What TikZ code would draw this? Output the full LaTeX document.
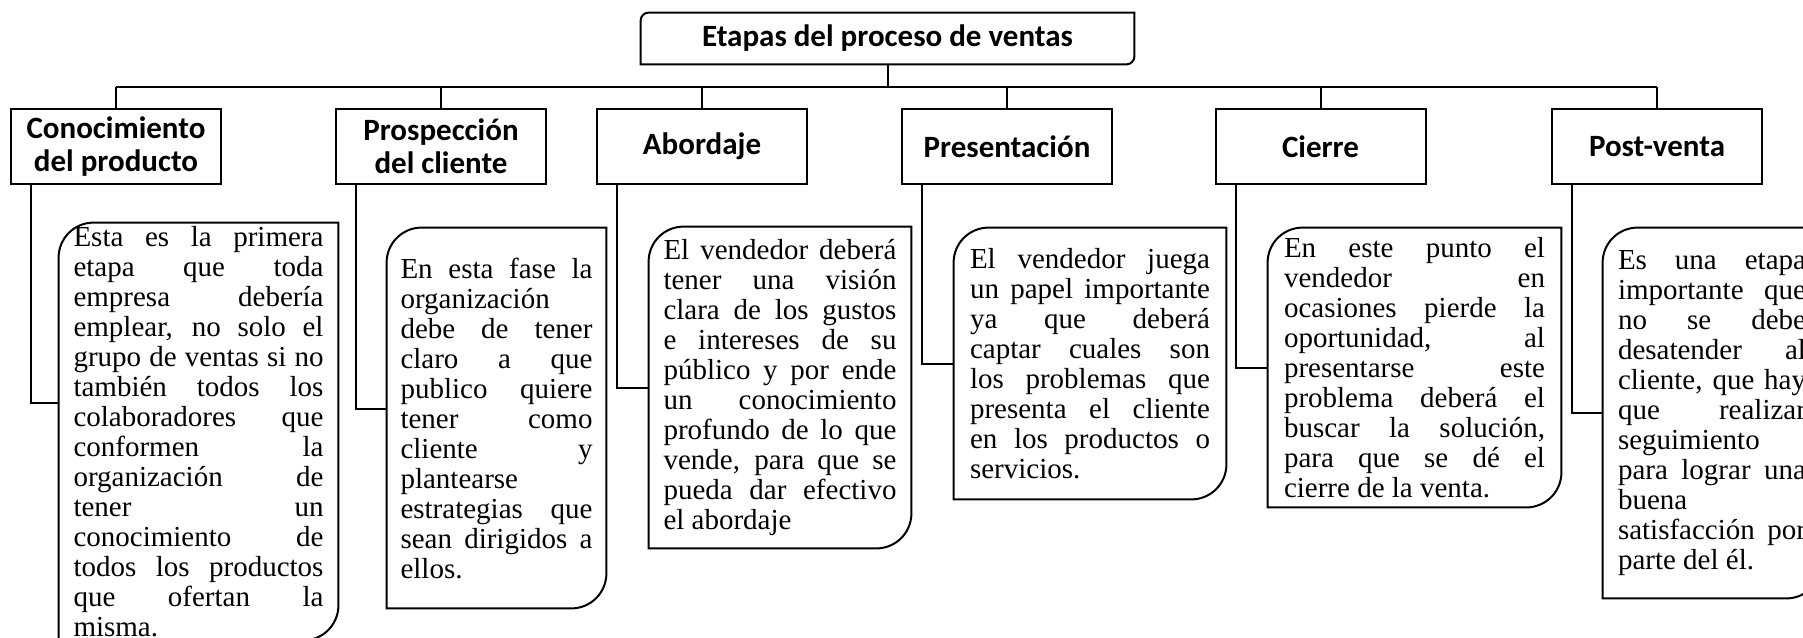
\documentclass[tikz,border=0pt]{standalone}
\usepackage{fontspec}
\setmainfont{Liberation Serif}
\newfontfamily\headfont{Carlito}
\setlength{\parindent}{0pt}

% justified line, Word style
\newcommand{\jl}[1]{\makebox[\hsize][s]{#1}\\}
% box with rounded top left and bottom right corners
\newcommand{\cornerbox}[2]{%
  \draw[line width=1pt] ([yshift=-#2]#1.north west)
    arc[start angle=180, end angle=90, radius=#2] -- (#1.north east)
    -- ([yshift=#2]#1.south east)
    arc[start angle=0, end angle=-90, radius=#2] -- (#1.south west) -- cycle;}

\begin{document}
\begin{tikzpicture}[x=0.5pt, y=-0.5pt,
    headbox/.style={font=\headfont\bfseries\fontsize{15.5}{16.5}\selectfont,
                    minimum width=246.5pt, minimum height=25.5pt, inner sep=0pt},
    stagebox/.style={draw, line width=1pt, align=center, inner sep=0pt,
                     minimum width=105pt, minimum height=37.5pt,
                     font=\headfont\bfseries\fontsize{15.5}{16.5}\selectfont},
    descbox/.style={align=justify, inner sep=0pt,
                    font=\fontsize{14.5}{15}\selectfont}]

    \useasboundingbox (0,0) rectangle (1803,637);

    % Title
    \node[headbox] (tit) at (887.5,38.5) {Etapas del proceso de ventas};
    \cornerbox{tit}{4pt}

    % Stages
    \node[stagebox] (s1) at (116,146.5) {Conocimiento\\del producto};
    \node[stagebox] (s2) at (441,146.5) {Prospección\\del cliente};
    \node[stagebox] (s3) at (702,146.5) {Abordaje};
    \node[stagebox] (s4) at (1007,146.5) {Presentación};
    \node[stagebox] (s5) at (1320.5,146.5) {Cierre};
    \node[stagebox] (s6) at (1657,146.5) {Post-venta};

    % Tree lines
    \coordinate (bar) at (0,86.5);
    \draw[line width=1pt] (tit.south) -- (tit.south |- bar);
    \draw[line width=1pt] (s1.north |- bar) -- (s6.north |- bar);
    \draw[line width=1pt] (s1.north) -- (s1.north |- bar);
    \draw[line width=1pt] (s2.north) -- (s2.north |- bar);
    \draw[line width=1pt] (s3.north) -- (s3.north |- bar);
    \draw[line width=1pt] (s4.north) -- (s4.north |- bar);
    \draw[line width=1pt] (s5.north) -- (s5.north |- bar);
    \draw[line width=1pt] (s6.north) -- (s6.north |- bar);

    % Descriptions
    \node[descbox, minimum width=139.5pt, minimum height=208.5pt, text width=125pt]
        (d1) at (198.5,431.5) {\jl{Esta es la primera}\jl{etapa que toda}%
        \jl{empresa debería}\jl{emplear, no solo el}\jl{grupo de ventas si no}%
        \jl{también todos los}\jl{colaboradores que}\jl{conformen la}%
        \jl{organización de}\jl{tener un}\jl{conocimiento de}%
        \jl{todos los productos}\jl{que ofertan la}misma.};
    \node[descbox, minimum width=109.5pt, minimum height=190pt, text width=96pt]
        (d2) at (496.5,418) {\jl{En esta fase la}organización\\%
        \jl{debe de tener}\jl{claro a que}\jl{publico quiere}\jl{tener como}%
        \jl{cliente y}plantearse\\\jl{estrategias que}\jl{sean dirigidos a}ellos.};
    \node[descbox, minimum width=131pt, minimum height=160.5pt, text width=116.5pt]
        (d3) at (780,387.5) {\jl{El vendedor deberá}\jl{tener una visión}%
        \jl{clara de los gustos}\jl{e intereses de su}\jl{público y por ende}%
        \jl{un conocimiento}\jl{profundo de lo que}\jl{vende, para que se}%
        \jl{pueda dar efectivo}el abordaje};
    \node[descbox, minimum width=136pt, minimum height=135.5pt, text width=120pt]
        (d4) at (1090,363.5) {\jl{El vendedor juega}\jl{un papel importante}%
        \jl{ya que deberá}\jl{captar cuales son}\jl{los problemas que}%
        \jl{presenta el cliente}\jl{en los productos o}servicios.};
    \node[descbox, minimum width=146.5pt, minimum height=139.5pt, text width=130.5pt]
        (d5) at (1414.5,367.5) {\jl{En este punto el}\jl{vendedor en}%
        \jl{ocasiones pierde la}\jl{oportunidad, al}\jl{presentarse este}%
        \jl{problema deberá el}\jl{buscar la solución,}\jl{para que se dé el}%
        cierre de la venta.};
    \node[descbox, minimum width=109pt, minimum height=185pt, text width=94pt]
        (d6) at (1712,413) {\jl{Es una etapa}\jl{importante que}\jl{no se debe}%
        \jl{desatender al}\jl{cliente, que hay}\jl{que realizar}seguimiento\\%
        \jl{para lograr una}buena\\\jl{satisfacción por}parte del él.};
    \cornerbox{d1}{17.5pt}
    \cornerbox{d2}{17.5pt}
    \cornerbox{d3}{17.5pt}
    \cornerbox{d4}{17.5pt}
    \cornerbox{d5}{17.5pt}
    \cornerbox{d6}{17.5pt}

    % Connectors
    \draw[line width=1pt] ([xshift=10.5pt]s1.south west) |- ([yshift=14.25pt]d1.west);
    \draw[line width=1pt] ([xshift=10.5pt]s2.south west) |- ([yshift=4.5pt]d2.west);
    \draw[line width=1pt] ([xshift=10.5pt]s3.south west) |- (d3.west);
    \draw[line width=1pt] ([xshift=10.5pt]s4.south west) |- (d4.west);
    \draw[line width=1pt] ([xshift=10.5pt]s5.south west) |- (d5.west);
    \draw[line width=1pt] ([xshift=10.5pt]s6.south west) |- (d6.west);
\end{tikzpicture}
\end{document}
